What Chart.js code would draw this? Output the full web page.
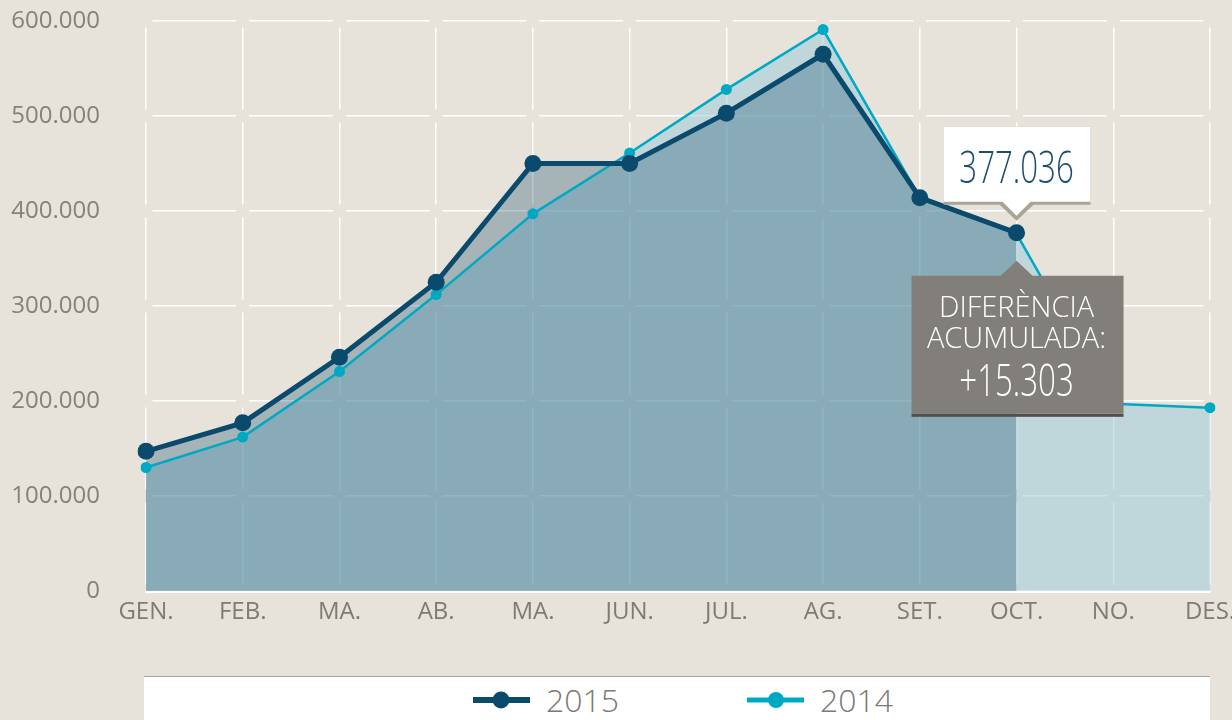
<!DOCTYPE html>
<html>
<head>
<meta charset="utf-8">
<script src="https://cdn.jsdelivr.net/npm/chart.js@4.4.0/dist/chart.umd.min.js"></script>
<style>
  body { margin: 0; background: #e8e3da; width: 1232px; height: 720px; overflow: hidden; font-family: "Open Sans", sans-serif; }
  #wrap { position: relative; width: 1232px; height: 676px; }
  #legend { position: absolute; left: 144px; top: 676px; width: 1066px; height: 60px; background: #fff;
            border-top: 1px solid #a9a59d; display: flex; justify-content: center; padding-left: 12px; box-sizing: border-box; }
  .item { display: flex; align-items: center; height: 46px; margin: 0 64px; }
  .mark { position: relative; width: 57px; height: 18px; margin-right: 16px; }
  .mark .ln { position: absolute; left: 0; right: 0; top: 50%; transform: translateY(-50%); }
  .mark .dot { position: absolute; left: 50%; top: 50%; border-radius: 50%; transform: translate(-50%, -50%); }
  .txt { font-weight: 300; font-size: 32px; color: #7d7975; line-height: 46px; }
</style>
</head>
<body>
<div id="wrap"><canvas id="visitsChart"></canvas></div>
<div id="legend"></div>
<script>
// mesos
const months = ['GEN.', 'FEB.', 'MA.', 'AB.', 'MA.', 'JUN.', 'JUL.', 'AG.', 'SET.', 'OCT.', 'NO.', 'DES.'];
// visitants per mes
const visits2015 = [147000, 177000, 246000, 325000, 450000, 450000, 503000, 565000, 414000, 377036, null, null];
const visits2014 = [130000, 162000, 231000, 312000, 397000, 461000, 528000, 591000, 414000, 376000, 197000, 193000];
const yTicks = [0, 100000, 200000, 300000, 400000, 500000, 600000];
const calloutIndex = 9;
const accumulatedDiff = 15303;

const darkBlue = '#0a4a6c';
const cyan = '#00a9c3';

const fmt = n => String(n).replace(/\B(?=(\d{3})+(?!\d))/g, '.');

// gaps in the grid where lines cross
const xStep = c => {
  const s = c.chart.scales.x;
  return s ? s.getPixelForValue(1) - s.getPixelForValue(0) : 0;
};
const yStep = c => {
  const s = c.chart.scales.y;
  return s ? s.getPixelForValue(0) - s.getPixelForValue(yTicks[1]) : 0;
};
const gap = 13;

const calloutPlugin = {
  id: 'callout',
  afterDraw(chart) {
    const ctx = chart.ctx;
    const pt = chart.getDatasetMeta(0).data[calloutIndex];
    const x = pt.x, y = pt.y + 4;

    ctx.save();
    // caixa blanca amb el valor
    const wl = x - 73, wr = x + 74, wt = y - 110, wb = y - 35;
    ctx.fillStyle = '#a8a596';
    ctx.beginPath();
    ctx.moveTo(wl, wt); ctx.lineTo(wr, wt); ctx.lineTo(wr, wb + 3);
    ctx.lineTo(x + 17, wb + 3); ctx.lineTo(x, wb + 19); ctx.lineTo(x - 17, wb + 3);
    ctx.lineTo(wl, wb + 3); ctx.closePath(); ctx.fill();
    ctx.fillStyle = '#ffffff';
    ctx.beginPath();
    ctx.moveTo(wl, wt); ctx.lineTo(wr, wt); ctx.lineTo(wr, wb);
    ctx.lineTo(x + 14, wb); ctx.lineTo(x, wb + 14); ctx.lineTo(x - 14, wb);
    ctx.lineTo(wl, wb); ctx.closePath(); ctx.fill();

    ctx.fillStyle = '#1b4e6e';
    ctx.font = '300 44px "Open Sans"';
    ctx.textAlign = 'center';
    ctx.textBaseline = 'alphabetic';
    ctx.save();
    ctx.translate(x, y - 54);
    ctx.scale(0.71, 1);
    ctx.fillText(fmt(chart.data.datasets[0].data[calloutIndex]), 0, 0);
    ctx.restore();

    // caixa grisa amb la diferència
    const gl = x - 105, gr = x + 107, gt = y + 39, gb = y + 177;
    ctx.fillStyle = '#524e4b';
    ctx.fillRect(gl, gb, gr - gl, 3);
    ctx.fillStyle = '#827e7a';
    ctx.beginPath();
    ctx.moveTo(gl, gt); ctx.lineTo(x - 16, gt); ctx.lineTo(x, gt - 15); ctx.lineTo(x + 16, gt);
    ctx.lineTo(gr, gt); ctx.lineTo(gr, gb); ctx.lineTo(gl, gb); ctx.closePath(); ctx.fill();

    ctx.fillStyle = '#ffffff';
    ctx.font = '300 29px "Open Sans"';
    ctx.fillText('DIFERÈNCIA', x, y + 80);
    ctx.fillText('ACUMULADA:', x, y + 111);
    ctx.font = '300 44px "Open Sans"';
    ctx.save();
    ctx.translate(x, y + 159);
    ctx.scale(0.71, 1);
    ctx.fillText('+' + fmt(accumulatedDiff), 0, 0);
    ctx.restore();
    ctx.restore();
  }
};

const chart = new Chart(document.getElementById('visitsChart'), {
  type: 'line',
  data: {
    labels: months,
    datasets: [
      {
        label: '2015',
        data: visits2015,
        borderColor: darkBlue,
        backgroundColor: 'rgba(13, 74, 107, 0.3)',
        borderWidth: 5,
        pointRadius: 8.5,
        pointBackgroundColor: darkBlue,
        pointBorderWidth: 0,
        fill: 'origin'
      },
      {
        label: '2014',
        data: visits2014,
        borderColor: cyan,
        backgroundColor: 'rgba(150, 201, 220, 0.5)',
        borderWidth: 2.5,
        pointRadius: 5.5,
        pointBackgroundColor: cyan,
        pointBorderWidth: 0,
        fill: 'origin'
      }
    ]
  },
  options: {
    responsive: true,
    maintainAspectRatio: false,
    animation: false,
    layout: { padding: { top: 21, right: 22, left: 0, bottom: 0 } },
    plugins: {
      legend: { display: false },
      tooltip: { enabled: false },
      filler: { drawTime: 'beforeDatasetsDraw' }
    },
    scales: {
      x: {
        offset: false,
        grid: { color: '#ffffff', lineWidth: 1.5, drawTicks: false },
        border: {
          display: true, color: '#ffffff', width: 3,
          dash: c => { const s = yStep(c); return s > gap ? [s - gap, gap] : []; },
          dashOffset: c => yStep(c) - gap / 2
        },
        ticks: {
          color: '#7f7a75', font: { family: 'Open Sans', size: 24 },
          padding: 7, maxRotation: 0, autoSkip: false
        },
        afterFit: s => { s.height = 85; s.paddingLeft = 0; s.paddingRight = 0; }
      },
      y: {
        min: 0,
        max: 600000,
        afterBuildTicks: s => { s.ticks = yTicks.map(v => ({ value: v })); },
        grid: { color: '#ffffff', lineWidth: 1.5, drawTicks: false },
        border: {
          display: false,
          dash: c => { const s = xStep(c); return s > gap ? [s - gap, gap] : []; },
          dashOffset: c => xStep(c) - gap / 2
        },
        ticks: {
          color: '#86817b', font: { family: 'Open Sans', size: 24 },
          padding: 46,
          callback: v => fmt(v)
        },
        afterFit: s => { s.width = 146; s.paddingTop = 0; s.paddingBottom = 0; }
      }
    }
  },
  plugins: [calloutPlugin]
});

// llegenda html
const legendBox = document.getElementById('legend');
chart.data.datasets.forEach(ds => {
  const item = document.createElement('div');
  item.className = 'item';
  const big = ds.borderWidth > 3;
  item.innerHTML =
    '<span class="mark"><span class="ln" style="height:' + (big ? 6 : 5) + 'px;background:' + ds.borderColor + '"></span>' +
    '<span class="dot" style="width:' + (big ? 17 : 16) + 'px;height:' + (big ? 17 : 16) + 'px;background:' + ds.borderColor + '"></span></span>' +
    '<span class="txt">' + ds.label + '</span>';
  legendBox.appendChild(item);
});
</script>
</body>
</html>
